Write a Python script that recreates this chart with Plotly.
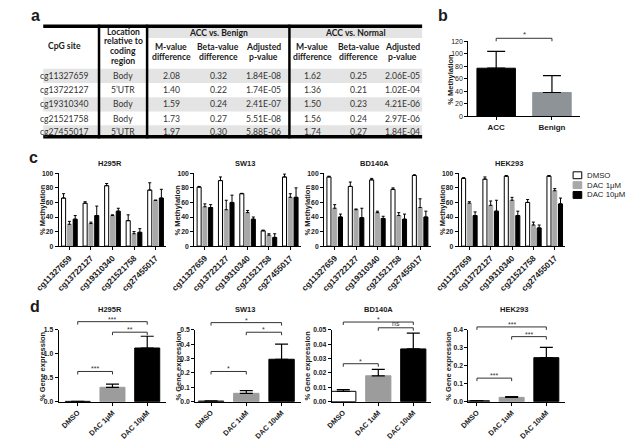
import plotly.graph_objects as go

W, H = 626, 446
FONT = "Liberation Sans, Arial, sans-serif"
TFONT = "Lato, Open Sans, sans-serif"

# ---------------- Panel a: table data ----------------
CPG_SITES = ["cg11327659", "cg13722127", "cg19310340", "cg21521758", "cg27455017"]
LOCATIONS = ["Body", "5\u2019UTR", "Body", "Body", "5\u2019UTR"]
BENIGN_M = ["2.08", "1.40", "1.59", "1.73", "1.97"]
BENIGN_BETA = ["0.32", "0.22", "0.24", "0.27", "0.30"]
BENIGN_P = ["1.84E-08", "1.74E-05", "2.41E-07", "5.51E-08", "5.88E-06"]
NORMAL_M = ["1.62", "1.36", "1.50", "1.56", "1.74"]
NORMAL_BETA = ["0.25", "0.21", "0.23", "0.24", "0.27"]
NORMAL_P = ["2.06E-05", "1.02E-04", "4.21E-06", "2.97E-06", "1.84E-04"]
GROUP_HEADERS = ["ACC vs. Benign", "ACC vs. Normal"]
SUB_HEADERS = [["M-value", "difference"], ["Beta-value", "difference"], ["Adjusted", "p-value"]]
LOCATION_HEADER = ["Location", "relative to", "coding", "region"]

# ---------------- Panel b ----------------
B_GROUPS = ["ACC", "Benign"]
B_MEAN = [77, 38]
B_SD = [27, 27]

# ---------------- Panel c ----------------
CELL_LINES = ["H295R", "SW13", "BD140A", "HEK293"]
C_TREATMENTS = ["DMSO", "DAC 1\u03bcM", "DAC 10\u03bcM"]

H295R_DMSO = [66, 59, 83, 35, 77]
H295R_DMSO_ERR = [6, 2, 3, 8, 10]
H295R_DAC1 = [30, 31, 42, 17, 63]
H295R_DAC1_ERR = [4, 2, 1, 3, 0]
H295R_DAC10 = [37, 42, 48, 19, 66]
H295R_DAC10_ERR = [5, 13, 4, 5, 12]

SW13_DMSO = [81, 90, 72, 21, 95]
SW13_DMSO_ERR = [1, 5, 0.5, 1, 4]
SW13_DAC1 = [54, 50, 46, 15, 67]
SW13_DAC1_ERR = [4, 13, 3, 2, 5]
SW13_DAC10 = [53, 60, 37, 12, 67]
SW13_DAC10_ERR = [4, 10, 3, 5, 13]

BD140A_DMSO = [95, 82, 91, 78, 97]
BD140A_DMSO_ERR = [1, 6, 2, 2, 1]
BD140A_DAC1 = [52, 50, 46, 42, 53]
BD140A_DAC1_ERR = [5, 1, 2, 4, 12]
BD140A_DAC10 = [40, 39, 38, 37, 40]
BD140A_DAC10_ERR = [4, 13, 3, 7, 8]

HEK293_DMSO = [93, 92, 96, 60, 96]
HEK293_DMSO_ERR = [1, 3, 1, 4, 1]
HEK293_DAC1 = [59, 56, 63, 29, 76]
HEK293_DAC1_ERR = [2, 6, 4, 4, 3]
HEK293_DAC10 = [42, 48, 42, 25, 58]
HEK293_DAC10_ERR = [5, 15, 6, 4, 8]

# ---------------- Panel d ----------------
D_LABELS_H295R = ["DMSO", "DAC 1\u03bcM", "DAC 10\u03bcM"]
D_LABELS_OTHER = ["DMSO", "DAC 1uM", "DAC 10uM"]
D_H295R = [0.006, 0.30, 1.12]
D_H295R_ERR = [0.002, 0.065, 0.245]
D_SW13 = [0.004, 0.058, 0.295]
D_SW13_ERR = [0.001, 0.019, 0.105]
D_BD140A = [0.0072, 0.018, 0.0367]
D_BD140A_ERR = [0.0012, 0.0045, 0.011]
D_HEK293 = [0.005, 0.024, 0.245]
D_HEK293_ERR = [0.001, 0.004, 0.057]
D_YMAX = [1.5, 0.5, 0.05, 0.4]
D_DTICK = [0.5, 0.1, 0.01, 0.1]
D_TICKFMT = [".1f", ".1f", ".2f", ".1f"]
# significance comparisons: (group i, group j, bracket level, label)
D_SIG_H295R = [(0, 2, 1.67, "***"), (1, 2, 1.45, "**"), (0, 1, 0.63, "***")]
D_SIG_SW13 = [(0, 2, 0.55, "*"), (1, 2, 0.483, "*"), (0, 1, 0.21, "*")]
D_SIG_BD140A = [(0, 2, 0.0554, "*"), (1, 2, 0.0514, "ns"), (0, 1, 0.0264, "*")]
D_SIG_HEK293 = [(0, 2, 0.416, "***"), (1, 2, 0.362, "***"), (0, 1, 0.131, "***")]
B_SIG = [(0, 1, 125, "*")]

# ---------------- assemble ----------------
C_SERIES = {
    "H295R": [(H295R_DMSO, H295R_DMSO_ERR), (H295R_DAC1, H295R_DAC1_ERR), (H295R_DAC10, H295R_DAC10_ERR)],
    "SW13": [(SW13_DMSO, SW13_DMSO_ERR), (SW13_DAC1, SW13_DAC1_ERR), (SW13_DAC10, SW13_DAC10_ERR)],
    "BD140A": [(BD140A_DMSO, BD140A_DMSO_ERR), (BD140A_DAC1, BD140A_DAC1_ERR), (BD140A_DAC10, BD140A_DAC10_ERR)],
    "HEK293": [(HEK293_DMSO, HEK293_DMSO_ERR), (HEK293_DAC1, HEK293_DAC1_ERR), (HEK293_DAC10, HEK293_DAC10_ERR)],
}
D_SERIES = [(D_H295R, D_H295R_ERR, D_LABELS_H295R, D_SIG_H295R),
            (D_SW13, D_SW13_ERR, D_LABELS_OTHER, D_SIG_SW13),
            (D_BD140A, D_BD140A_ERR, D_LABELS_OTHER, D_SIG_BD140A),
            (D_HEK293, D_HEK293_ERR, D_LABELS_OTHER, D_SIG_HEK293)]

C_FILL = ["white", "#a8a8a8", "black"]
C_LINE = ["black", "#a8a8a8", "black"]
D_FILL = ["white", "#9c9c9c", "black"]
D_LINE = ["black", "#9c9c9c", "black"]
B_FILL = ["black", "#8e9398"]

TXT = "#1a1a1a"

fig = go.Figure()
shapes = []
annotations = []
layout = dict(width=W, height=H, margin=dict(l=0, r=0, t=0, b=0),
              paper_bgcolor="white", plot_bgcolor="white", showlegend=False,
              barmode="overlay", font=dict(family=FONT, color=TXT))


def px(x):
    return x / W


def py(y):
    return 1 - y / H


def ann(x, y, text, size, bold=False, family=FONT, angle=0, xanchor="center", yanchor="middle", color=TXT):
    annotations.append(dict(x=px(x), y=py(y), xref="paper", yref="paper", text=text,
                            showarrow=False, textangle=angle, xanchor=xanchor, yanchor=yanchor,
                            borderpad=0,
                            font=dict(family=family, size=size, color=color,
                                      weight="bold" if bold else "normal")))


def rect(x0, y0, x1, y1, fill, layer="below"):
    shapes.append(dict(type="rect", xref="paper", yref="paper", x0=px(x0), x1=px(x1),
                       y0=py(y1), y1=py(y0), fillcolor=fill, line=dict(width=0), layer=layer))


def hline(x0, x1, y, w, color="black"):
    shapes.append(dict(type="line", xref="paper", yref="paper", x0=px(x0), x1=px(x1),
                       y0=py(y), y1=py(y), line=dict(color=color, width=w), layer="above"))


def vline(x, y0, y1, w, color="black"):
    shapes.append(dict(type="line", xref="paper", yref="paper", x0=px(x), x1=px(x),
                       y0=py(y0), y1=py(y1), line=dict(color=color, width=w), layer="above"))


def axis_ids(idx):
    s = "" if idx == 1 else str(idx)
    return "x" + s, "y" + s, "xaxis" + s, "yaxis" + s


def set_axes(idx, xbox, ybox, xrange, tickvals, ticktext, ymax, dtick, tickfmt,
             xfont, yfont, xbold=True, ybold=True, xangle=-45):
    xr, yr, xa, ya = axis_ids(idx)
    layout[xa] = dict(domain=[px(xbox[0]), px(xbox[1])], anchor=yr, range=xrange,
                      tickmode="array", tickvals=tickvals, ticktext=ticktext, tickangle=xangle,
                      showline=True, linecolor="black", linewidth=1, ticks="outside", ticklen=3,
                      tickwidth=1, tickcolor="black", showgrid=False, zeroline=False,
                      tickfont=dict(size=xfont, family=FONT, color=TXT,
                                    weight="bold" if xbold else "normal"), fixedrange=True)
    layout[ya] = dict(domain=[py(ybox[1]), py(ybox[0])], anchor=xr, range=[0, ymax],
                      tick0=0, dtick=dtick, tickformat=tickfmt,
                      showline=True, linecolor="black", linewidth=1, ticks="outside", ticklen=3,
                      tickwidth=1, tickcolor="black", showgrid=False, zeroline=False,
                      tickfont=dict(size=yfont, family=FONT, color=TXT,
                                    weight="bold" if ybold else "normal"), fixedrange=True)


def bracket(idx, i, j, level, ymax, label, plot_h, size=7):
    xr, yr, _, _ = axis_ids(idx)
    yd = yr + " domain"
    yf = level / ymax
    drop = 3.0 / plot_h
    col = "#333333"
    for (a0, a1, b0, b1) in [(i, j, yf, yf), (i, i, yf, yf - drop), (j, j, yf, yf - drop)]:
        shapes.append(dict(type="line", xref=xr, yref=yd, x0=a0, x1=a1, y0=b0, y1=b1,
                           line=dict(color=col, width=1), layer="above"))
    annotations.append(dict(x=(i + j) / 2, y=yf, xref=xr, yref=yd, text=label, showarrow=False,
                            xanchor="center", yanchor="bottom", borderpad=0,
                            yshift=-2 if label != "ns" else 0,
                            font=dict(family=FONT, size=size, color=col)))


# ================= Panel a: table =================
TL, TR = 20, 414
VLINES = [78, 128, 276]
COLS = [42, 103, 153, 202, 249, 300, 348, 394]
ROW_Y = [73, 87.5, 102, 116.5, 130.5]
BAND = "#e4e4e4"
for r, yc in enumerate(ROW_Y):
    if r % 2 == 0:
        rect(TL, yc - 7.2, TR, min(yc + 7.2, 134), BAND)
rect(VLINES[1], 23, TR, 34.5, BAND)
hline(TL, TR, 22.5, 3.5)
hline(TL, TR, 134.8, 3.5)
for vx in VLINES:
    vline(vx, 21, 136.5, 2.5)

TS = 8.6
ann(COLS[0], 43, "CpG site", TS, bold=True, family=TFONT)
for li, line in enumerate(LOCATION_HEADER):
    ann(COLS[1], 28 + 10 * li, line, TS, bold=True, family=TFONT)
ann((VLINES[1] + VLINES[2]) / 2, 29, GROUP_HEADERS[0], TS, bold=True, family=TFONT)
ann((VLINES[2] + TR) / 2, 29, GROUP_HEADERS[1], TS, bold=True, family=TFONT)
for k, sh in enumerate(SUB_HEADERS + SUB_HEADERS):
    for li, line in enumerate(sh):
        ann(COLS[2 + k], 44 + 10 * li, line, TS, bold=True, family=TFONT)
table_cols = [CPG_SITES, LOCATIONS, BENIGN_M, BENIGN_BETA, BENIGN_P, NORMAL_M, NORMAL_BETA, NORMAL_P]
for c, col in enumerate(table_cols):
    for r, val in enumerate(col):
        ann(COLS[c], ROW_Y[r], val, TS, family=TFONT, color="#333333")

# ================= Panel b =================
BX, BY = (462, 578), (38, 114)
set_axes(1, BX, BY, [-0.5, 1.5], [0, 1], B_GROUPS, 120, 20, "d", 8, 7, xbold=True, ybold=False, xangle=0)
fig.add_trace(go.Bar(x=list(range(len(B_GROUPS))), y=B_MEAN, width=0.69,
                     marker=dict(color=B_FILL, line=dict(color=B_FILL, width=1)),
                     error_y=dict(type="data", array=B_SD, arrayminus=[0] * len(B_SD), symmetric=False,
                                  color="black", thickness=1.2, width=9),
                     xaxis="x", yaxis="y"))
for (i, j, lvl, lab) in B_SIG:
    bracket(1, i, j, lvl, 120, lab, BY[1] - BY[0], size=8)
ann(BX[0] - 18, (BY[0] + BY[1]) / 2, "% Methylation", 7.5, bold=True, angle=-90)

# ================= Panel c =================
C_XBOX = [(36, 148), (177, 288), (312, 423), (452, 563)]
C_YBOX = (172, 246)
BAR_W = 0.19
BAR_STEP = 0.27
for p, cl in enumerate(CELL_LINES):
    idx = 2 + p
    xr, yr, _, _ = axis_ids(idx)
    set_axes(idx, C_XBOX[p], C_YBOX, [-0.5, len(CPG_SITES) - 0.5], list(range(len(CPG_SITES))),
             CPG_SITES, 100, 20, "d", 8.3, 6.8)
    for k, (mean, err) in enumerate(C_SERIES[cl]):
        fig.add_trace(go.Bar(x=list(range(len(mean))), y=mean, width=BAR_W,
                             offset=(k - 1) * BAR_STEP - BAR_W / 2, name=C_TREATMENTS[k],
                             marker=dict(color=C_FILL[k], line=dict(color=C_LINE[k], width=1)),
                             error_y=dict(type="data", array=err, arrayminus=[0] * len(err),
                                          symmetric=False, color="black", thickness=1, width=1.5),
                             xaxis=xr, yaxis=yr))
    ann((C_XBOX[p][0] + C_XBOX[p][1]) / 2 - 3, 162, cl, 7.5, bold=True)
    ann(C_XBOX[p][0] - 17, (C_YBOX[0] + C_YBOX[1]) / 2, "% Methylation", 7.5, bold=True, angle=-90)

# legend for panel c
for k, name in enumerate(C_TREATMENTS):
    yc = 174 + 10 * k
    shapes.append(dict(type="rect", xref="paper", yref="paper", x0=px(571), x1=px(580),
                       y0=py(yc + 3.5), y1=py(yc - 3.5), fillcolor=C_FILL[k],
                       line=dict(color=C_LINE[k], width=1)))
    ann(584, yc, name, 7.8, xanchor="left")

# ================= Panel d =================
D_XBOX = [(36, 148), (178, 288), (320, 423), (462, 563)]
D_XRANGE = [[-0.55, 2.55], [-0.45, 2.55], [-0.33, 2.5], [-0.25, 2.55]]
D_YBOX = (331, 404)
D_TITLE_OFF = [17, 17, 25, 20]
for p, (mean, err, labels, sig) in enumerate(D_SERIES):
    idx = 6 + p
    xr, yr, _, _ = axis_ids(idx)
    ymax = D_YMAX[p]
    set_axes(idx, D_XBOX[p], D_YBOX, D_XRANGE[p], list(range(len(labels))), labels,
             ymax, D_DTICK[p], D_TICKFMT[p], 7.3, 6.8)
    fig.add_trace(go.Bar(x=list(range(len(mean))), y=mean, width=0.72,
                         marker=dict(color=D_FILL, line=dict(color=D_LINE, width=1)),
                         error_y=dict(type="data", array=err, arrayminus=[0] * len(err),
                                      symmetric=False, color="black", thickness=1.2, width=6.5),
                         xaxis=xr, yaxis=yr))
    for (i, j, lvl, lab) in sig:
        bracket(idx, i, j, lvl, ymax, lab, D_YBOX[1] - D_YBOX[0], size=7)
    ann((D_XBOX[p][0] + D_XBOX[p][1]) / 2 - 3, 310, CELL_LINES[p], 7.5, bold=True)
    ann(D_XBOX[p][0] - D_TITLE_OFF[p], (D_YBOX[0] + D_YBOX[1]) / 2, "% Gene expression", 7.5,
        bold=True, angle=-90)

# panel letters
ann(12, 12, "a", 16, bold=True)
ann(436, 12, "b", 16, bold=True)
ann(10, 156, "c", 16, bold=True)
ann(11, 307, "d", 16, bold=True)

layout["shapes"] = shapes
layout["annotations"] = annotations
fig.update_layout(**layout)
fig.write_html("out.html", config={"displayModeBar": False},
               post_script="document.body.style.margin='0';document.body.style.overflow='hidden';")
